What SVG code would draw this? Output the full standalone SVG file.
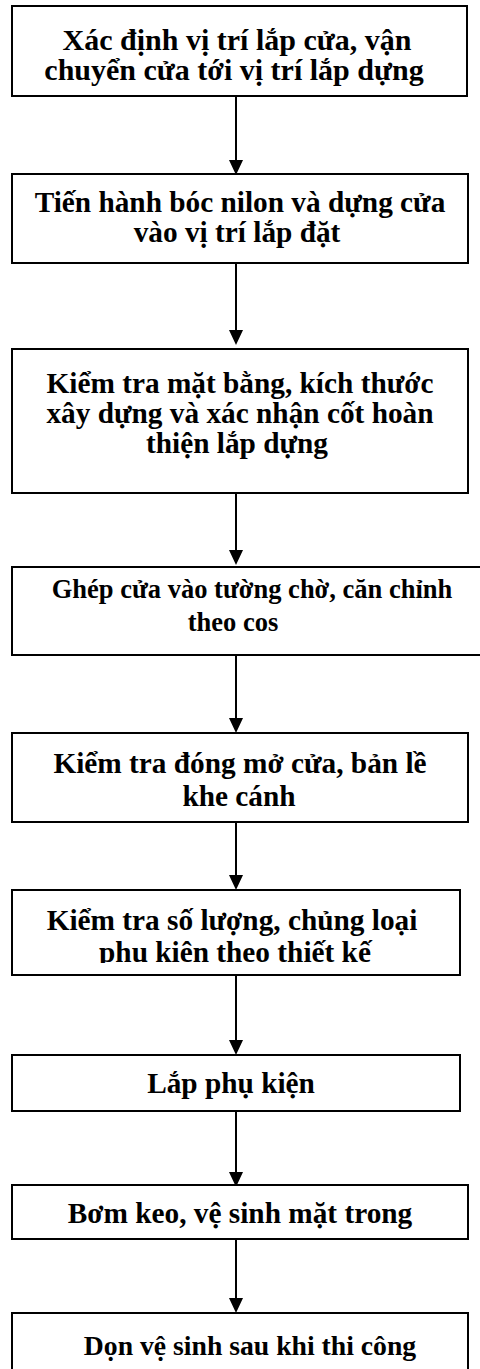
<svg xmlns="http://www.w3.org/2000/svg" width="480" height="1369" viewBox="0 0 480 1369">
<defs>
<style>
.box{fill:#fff;stroke:#000;stroke-width:2}
.t{font-family:"Liberation Serif","Times New Roman",serif;font-weight:bold;font-size:29.3px;fill:#000;text-anchor:middle}
.l{font-size:30px}
.s{font-size:26.5px}
.m{font-size:27.7px}
.c{stroke:#000;stroke-width:2;fill:none;marker-end:url(#ah)}
</style>
<marker id="ah" viewBox="0 0 15 14" refX="5" refY="7" markerWidth="15" markerHeight="14" markerUnits="userSpaceOnUse" orient="auto">
<path d="M0,0 L15,7 L0,14 z" fill="#000"/>
</marker>
<clipPath id="clip6"><rect x="0" y="880" width="480" height="83"/></clipPath>
</defs>
<rect width="480" height="1369" fill="#fff"/>
<g id="connectors">
<line class="c" x1="236" y1="96" x2="236" y2="165"/>
<line class="c" x1="236" y1="263" x2="236" y2="335"/>
<line class="c" x1="236" y1="493" x2="236" y2="555"/>
<line class="c" x1="236" y1="655" x2="236" y2="723"/>
<line class="c" x1="236" y1="822" x2="236" y2="880"/>
<line class="c" x1="236" y1="975" x2="236" y2="1045"/>
<line class="c" x1="236" y1="1111" x2="236" y2="1177"/>
<line class="c" x1="236" y1="1239" x2="236" y2="1303"/>
</g>
<g id="n1">
<rect class="box" x="12" y="6" width="455" height="90"/>
<text class="t l" x="237" y="50">Xác định vị trí lắp cửa, vận</text>
<text class="t l" x="234" y="80">chuyển cửa tới vị trí lắp dựng</text>
</g>
<g id="n2">
<rect class="box" x="12" y="174" width="456" height="89"/>
<text class="t" x="240" y="212">Tiến hành bóc nilon và dựng cửa</text>
<text class="t" x="237" y="242">vào vị trí lắp đặt</text>
</g>
<g id="n3">
<rect class="box" x="12" y="349" width="456" height="144"/>
<text class="t" x="240" y="393">Kiểm tra mặt bằng, kích thước</text>
<text class="t" x="240" y="423">xây dựng và xác nhận cốt hoàn</text>
<text class="t" x="237" y="453">thiện lắp dựng</text>
</g>
<g id="n4">
<rect class="box" x="12" y="567" width="490" height="88"/>
<text class="t s" x="252" y="598">Ghép cửa vào tường chờ, căn chỉnh</text>
<text class="t s" x="233" y="631">theo cos</text>
</g>
<g id="n5">
<rect class="box" x="12" y="733" width="456" height="89"/>
<text class="t" x="240" y="773">Kiểm tra đóng mở cửa, bản lề</text>
<text class="t" x="239" y="806">khe cánh</text>
</g>
<g id="n6">
<rect class="box" x="12" y="890" width="448" height="85"/>
<text class="t" x="232" y="930">Kiểm tra số lượng, chủng loại</text>
<text class="t" x="235" y="962" clip-path="url(#clip6)">phụ kiện theo thiết kế</text>
</g>
<g id="n7">
<rect class="box" x="12" y="1055" width="448" height="56"/>
<text class="t" x="231" y="1093">Lắp phụ kiện</text>
</g>
<g id="n8">
<rect class="box" x="12" y="1185" width="456" height="54"/>
<text class="t" x="240" y="1223">Bơm keo, vệ sinh mặt trong</text>
</g>
<g id="n9">
<rect class="box" x="12" y="1313" width="456" height="80"/>
<text class="t m" x="250" y="1355">Dọn vệ sinh sau khi thi công</text>
</g>
</svg>
